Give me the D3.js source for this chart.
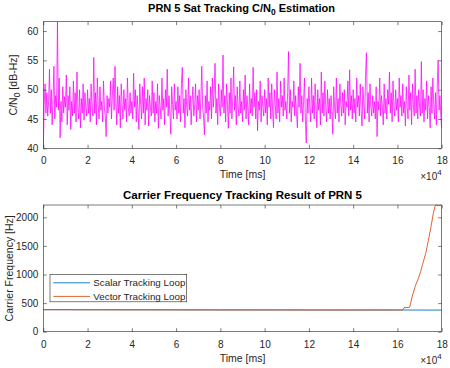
<!DOCTYPE html>
<html>
<head>
<meta charset="utf-8">
<script src="https://cdn.jsdelivr.net/npm/d3@7"></script>
<style>
  html, body { margin: 0; padding: 0; background: #fff; }
  svg { display: block; font-family: "Liberation Sans", Arial, Helvetica, sans-serif; }
</style>
</head>
<body>
<svg id="chart" width="450" height="368"></svg>
<script>
// ---------------- DATA ----------------
// Time axis in units of 10^4 ms
const timeMax = 18;
const xTickValues = [0, 2, 4, 6, 8, 10, 12, 14, 16, 18];

// C/N0 estimate [dB-Hz], evenly spaced samples over 0..18 (x10^4 ms)
const cn0Values = [
  40, 47.5, 51, 46, 49.5, 45.5, 48, 53.5, 46, 50, 44, 48.5, 54, 45, 49, 47, 61.6, 46.5, 52, 41.8, 48, 44.5, 50.5, 46, 48.8,
  47, 52.5, 44, 49, 46.5, 50.5, 43.2, 48, 45.5, 51.5, 46, 49.5, 44.5, 53, 47, 45, 50, 43.5, 48.5, 46, 51, 44.8, 49.5, 47, 45.5,
  50, 46, 48.5, 44.5, 51, 47, 45.5, 55.5, 46, 49.5, 44, 52, 47.5, 45, 50.5, 46.5, 48, 44.5, 51.5, 47, 45.5, 42, 49, 46, 48.5,
  47, 51.5, 45, 49, 52, 46.5, 54, 48, 44, 50.5, 46, 49, 43.5, 51, 47.5, 45, 50, 46.5, 48.5, 44.5, 52, 47, 45.5, 49.5, 46,
  48, 45, 52.8, 47, 50, 44.5, 49, 46.5, 43.2, 51, 47.5, 45, 50.5, 46, 52, 44, 48.5, 46.5, 50, 43.8, 49, 47, 45.5, 51.5, 46,
  49.5, 44.5, 48, 46, 51, 43.4, 49, 47, 45, 52, 46.5, 48.5, 44, 50, 47, 53.5, 45.5, 49, 46, 42.4, 50.5, 47.5, 45, 51, 46.5,
  48, 45, 50.5, 46, 49, 44.5, 51, 53.8, 46, 48.5, 43.5, 50, 47, 45.5, 52, 46.5, 49, 44, 48, 50.5, 45.5, 47.5, 51, 44.5, 49,
  46.5, 50, 45, 48.5, 54, 47, 45.5, 42.3, 49, 46, 51.5, 44.5, 48, 46.5, 50.5, 45, 52, 47, 49.5, 54.5, 46, 48.5, 44, 51, 47,
  45.5, 50, 47, 55.9, 46, 49, 44.5, 51, 47.5, 43.4, 49.5, 46, 52, 45, 48.5, 53.9, 46.5, 49, 44, 50.5, 47, 45.5, 51.5, 46, 48,
  44.5, 50, 46.5, 52.5, 45, 49, 47, 44, 51, 46, 48.5, 45.5, 53.8, 47, 49.5, 45, 50, 43, 48, 46.5, 51.5, 44.5, 49, 47, 45.5,
  50, 46, 48.5, 44, 52, 47, 49.5, 45, 51, 46.5, 43.5, 50, 47.5, 45, 53, 46, 48.5, 44.5, 51.5, 47, 49, 45.5, 52, 46.5, 48,
  45, 49.5, 56.5, 46, 50, 44.5, 48, 47, 51.5, 45.5, 49, 46, 43.5, 50.5, 47, 54.5, 46, 49, 44.5, 48, 52, 45, 40.9, 48.5, 46,
  50.5, 47, 44.5, 52, 46, 49, 45, 51, 47.5, 43.5, 50, 46.5, 48.5, 44, 53, 46, 49.5, 45.5, 51.5, 47, 44.5, 50, 46, 48.5, 45,
  49, 46.5, 42.4, 50.5, 47, 45, 52, 46, 48.5, 44.5, 51, 47.5, 45.5, 49.5, 46, 50, 44, 48, 47, 51.5, 45.5, 53.4, 46.5, 49, 45,
  50, 46, 48.5, 44.5, 52, 47, 49, 45.5, 51, 46.5, 43.8, 50.5, 47.5, 45, 52.5, 56.3, 46, 49.5, 44.5, 51, 47, 45.5, 49, 46, 48,
  45, 50.5, 42, 48, 46.5, 52, 45.5, 49, 47, 44, 51, 46, 48.5, 45, 50, 47.5, 53, 46, 49.5, 44.5, 51.5, 47, 45.5, 50, 46.5,
  48.5, 44.5, 52, 47, 49, 45.5, 51, 46, 48, 43.8, 50.5, 47, 45, 52.5, 46.5, 49.5, 44, 51, 47.5, 45.5, 53.5, 46, 49, 45, 50,
  47, 45.5, 54.8, 46, 50, 44.5, 48.5, 46.5, 51.5, 45, 49, 47, 43.5, 50.5, 46, 52, 47.5, 45, 49.5, 44, 51, 55, 46.5, 49, 45.5, 43.4
];
const cn0Ticks = [40, 45, 50, 55, 60];

// Carrier frequency tracking [Hz]
const scalarTime = [0, 4, 8, 12, 16.3, 18];
const scalarFreq = [385, 383, 381, 380, 379, 378];
const vectorTime = [0, 2, 4, 6, 8, 10, 12, 14, 16, 16.25, 16.3, 16.55, 16.6, 16.65, 16.8, 16.95, 17.05, 17.13, 17.28, 17.4, 17.52, 17.62, 17.7, 17.75, 17.85, 18];
const vectorFreq = [385, 383, 382, 381, 380, 380, 379, 379, 380, 380, 420, 425, 500, 590, 790, 935, 1050, 1170, 1370, 1600, 1840, 2070, 2195, 2215, 2205, 2215];
const freqTicks = [0, 500, 1000, 1500, 2000];
const seriesNames = ["Scalar Tracking Loop", "Vector Tracking Loop"];

// ---------------- DRAWING ----------------
const svg = d3.select("#chart");
const axisColor = "#262626";
const left = 43.3, right = 441.7;
const tickLen = 3.5;

function drawAxes(g, x, y, yTicks, top, bottom) {
  const ax = g.append("g").attr("transform", `translate(0,${bottom})`)
    .call(d3.axisBottom(x).tickValues(xTickValues).tickSizeInner(-tickLen).tickSizeOuter(0).tickPadding(9).tickFormat(d3.format("d")));
  const ay = g.append("g").attr("transform", `translate(${left},0)`)
    .call(d3.axisLeft(y).tickValues(yTicks).tickSizeInner(-tickLen).tickSizeOuter(0).tickPadding(5).tickFormat(d3.format("d")));
  const at = g.append("g").attr("transform", `translate(0,${top})`)
    .call(d3.axisTop(x).tickValues(xTickValues).tickSizeInner(-tickLen).tickSizeOuter(0).tickFormat(""));
  const ar = g.append("g").attr("transform", `translate(${right},0)`)
    .call(d3.axisRight(y).tickValues(yTicks).tickSizeInner(-tickLen).tickSizeOuter(0).tickFormat(""));
  [ax, ay, at, ar].forEach(a => {
    a.select(".domain").remove();
    a.selectAll("line").attr("stroke", axisColor).attr("stroke-width", 0.6);
    a.selectAll("text").attr("fill", axisColor).attr("font-size", 10).attr("font-family", "Liberation Sans, Arial, sans-serif");
  });
  g.append("rect").attr("x", left).attr("y", top).attr("width", right - left).attr("height", bottom - top)
    .attr("fill", "none").attr("stroke", axisColor).attr("stroke-width", 0.6);
  g.append("text").attr("x", (left + right) / 2).attr("y", bottom + 30).attr("text-anchor", "middle")
    .attr("font-size", 10.5).attr("fill", axisColor).text("Time [ms]");
  const ex = g.append("text").attr("x", right).attr("y", bottom + 32).attr("text-anchor", "end")
    .attr("font-size", 10).attr("fill", axisColor);
  ex.append("tspan").text("\u00D710");
  ex.append("tspan").attr("dy", -5).attr("font-size", 8).text("4");
}

// ---- Top: C/N0 ----
const top1 = 21.7, bot1 = 148.3;
const x1 = d3.scaleLinear().domain([0, timeMax]).range([left, right]);
const y1 = d3.scaleLinear().domain(d3.extent(cn0Values)).range([bot1, top1]);
const g1 = svg.append("g");
svg.append("clipPath").attr("id", "clip1").append("rect")
  .attr("x", left).attr("y", top1).attr("width", right - left).attr("height", bot1 - top1);
const step = timeMax / (cn0Values.length - 1);
g1.append("path").datum(cn0Values).attr("clip-path", "url(#clip1)")
  .attr("fill", "none").attr("stroke", "#FF00FF").attr("stroke-width", 0.75).attr("stroke-linejoin", "round")
  .attr("d", d3.line().x((d, i) => x1(i * step)).y(d => y1(d)));
drawAxes(g1, x1, y1, cn0Ticks, top1, bot1);
const t1 = g1.append("text").attr("x", (left + right) / 2 - 1).attr("y", 11.7).attr("text-anchor", "middle")
  .attr("font-size", 11).attr("font-weight", "bold").attr("fill", "#000");
t1.append("tspan").text("PRN 5 Sat Tracking C/N");
t1.append("tspan").attr("dy", 3).attr("font-size", 8.5).text("0");
t1.append("tspan").attr("dy", -3).text(" Estimation");
const yl1 = g1.append("text").attr("transform", `translate(17.3,${(top1 + bot1) / 2}) rotate(-90)`)
  .attr("text-anchor", "middle").attr("font-size", 10.5).attr("fill", axisColor);
yl1.append("tspan").text("C/N");
yl1.append("tspan").attr("dy", 3).attr("font-size", 8.5).text("0");
yl1.append("tspan").attr("dy", -3).text(" [dB-Hz]");

// ---- Bottom: carrier frequency ----
const top2 = 205, bot2 = 331.7;
const x2 = d3.scaleLinear().domain([0, timeMax]).range([left, right]);
const y2 = d3.scaleLinear().domain([0, d3.max(vectorFreq)]).range([bot2, top2]);
const g2 = svg.append("g");
svg.append("clipPath").attr("id", "clip2").append("rect")
  .attr("x", left).attr("y", top2 - 1).attr("width", right - left).attr("height", bot2 - top2 + 1);
const colors = ["#0072BD", "#D95319"];
const line2 = d3.line().x(d => x2(d[0])).y(d => y2(d[1]));
const scalarPts = scalarTime.map((t, i) => [t, scalarFreq[i]]);
const vectorPts = vectorTime.map((t, i) => [t, vectorFreq[i]]);
[scalarPts, vectorPts].forEach((pts, i) => {
  g2.append("path").datum(pts).attr("clip-path", "url(#clip2)")
    .attr("fill", "none").attr("stroke", colors[i]).attr("stroke-width", 0.9).attr("d", line2);
});
drawAxes(g2, x2, y2, freqTicks, top2, bot2);
g2.append("text").attr("x", (left + right) / 2).attr("y", 199).attr("text-anchor", "middle")
  .attr("font-size", 11.5).attr("font-weight", "bold").attr("fill", "#000")
  .text("Carrier Frequency Tracking Result of PRN 5");
g2.append("text").attr("transform", `translate(12.5,${(top2 + bot2) / 2}) rotate(-90)`)
  .attr("text-anchor", "middle").attr("font-size", 10.5).attr("fill", axisColor)
  .text("Carrier Frequency [Hz]");

// legend
const lg = g2.append("g");
lg.append("rect").attr("x", 50).attr("y", 274.3).attr("width", 136.7).attr("height", 27.5)
  .attr("fill", "#fff").attr("stroke", axisColor).attr("stroke-width", 0.6);
seriesNames.forEach((name, i) => {
  const yy = 282.8 + i * 13.6;
  lg.append("line").attr("x1", 53.3).attr("x2", 90).attr("y1", yy).attr("y2", yy)
    .attr("stroke", colors[i]).attr("stroke-width", 0.9);
  lg.append("text").attr("x", 93.3).attr("y", yy).attr("dy", "0.35em")
    .attr("font-size", 9.8).attr("fill", axisColor).text(name);
});
</script>
</body>
</html>
